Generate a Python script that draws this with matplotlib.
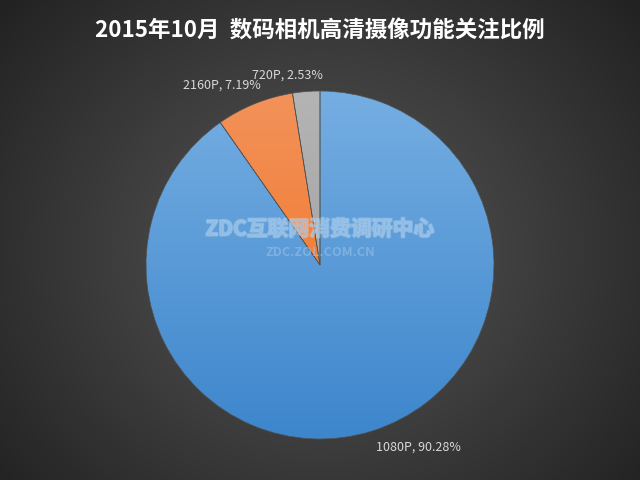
import numpy as np
import matplotlib
matplotlib.use("Agg")
import matplotlib.pyplot as plt
from matplotlib.colors import LinearSegmentedColormap
import matplotlib.patheffects as pe

plt.rcParams['font.family'] = ['Noto Sans CJK SC', 'DejaVu Sans']

title = "2015年10月  数码相机高清摄像功能关注比例"
categories = ["1080P", "2160P", "720P"]
values = [90.28, 7.19, 2.53]
top_colors = ["#75aee2", "#f3925a", "#b4b4b4"]
bot_colors = ["#3d86cc", "#ee6e1a", "#9a9a9a"]
label_angle_shift = [10.8, 6.5, 5.2]   # degrees, label placement tweak
label_dist = [1.19, 1.18, 1.11]

fig = plt.figure(figsize=(6.4, 4.8), dpi=100)

# radial gradient background
bg = fig.add_axes([0, 0, 1, 1])
yy, xx = np.mgrid[0:480, 0:640]
r = np.sqrt(((xx - 320) / 420.0) ** 2 + ((yy - 250) / 380.0) ** 2)
r = np.clip(r, 0, 1)
c0 = np.array([0x58, 0x58, 0x58]) / 255
c1 = np.array([0x22, 0x22, 0x22]) / 255
img = c0[None, None, :] * (1 - r[..., None]) + c1[None, None, :] * r[..., None]
bg.imshow(img, extent=[0, 640, 480, 0], aspect='auto')
bg.set_axis_off()

# pie axes
R = 174
cx, cy = 320, 480 - 265
ax = fig.add_axes([(cx - R) / 640, (cy - R) / 480, 2 * R / 640, 2 * R / 480])
wedges, texts = ax.pie(values, labels=[f"{c}, {v:.2f}%" for c, v in zip(categories, values)],
                       startangle=90, counterclock=False, radius=1.0,
                       labeldistance=1.18,
                       wedgeprops=dict(linewidth=0.5, edgecolor="#505050"),
                       textprops=dict(color="#d8d8d8", fontsize=9))
ax.set_xlim(-1, 1)
ax.set_ylim(-1, 1)
ax.set_aspect('auto')

for w, t, tc, bc, sh, d in zip(wedges, texts, top_colors, bot_colors, label_angle_shift, label_dist):
    cmap = LinearSegmentedColormap.from_list("g", [bc, tc])
    grad = np.linspace(0, 1, 256).reshape(-1, 1)
    im = ax.imshow(grad, extent=[-1, 1, -1, 1], origin='lower', cmap=cmap,
                   aspect='auto', zorder=w.get_zorder() + 0.1)
    im.set_clip_path(w)
    w.set_facecolor('none')
    w.set_zorder(w.get_zorder() + 0.2)
    mid = np.deg2rad((w.theta1 + w.theta2) / 2 + sh)
    t.set_position((d * np.cos(mid), d * np.sin(mid)))
    t.set_ha('center')
    t.set_va('center')

ax.set_xlim(-1, 1)
ax.set_ylim(-1, 1)
ax.set_axis_off()

fig.text(0.5, 1 - 31 / 480, title, ha='center', va='center', color='white',
         fontsize=16.2, fontweight='bold')

# watermark
fig.text(0.5, 1 - 229 / 480, "ZDC互联网消费调研中心", ha='center', va='center',
         color='#9cc4ea', alpha=0.55, fontsize=15, fontweight='bold',
         path_effects=[pe.withStroke(linewidth=1.5, foreground='#d8e8f6', alpha=0.35)])
fig.text(0.5, 1 - 253 / 480, "ZDC.ZOL.COM.CN", ha='center', va='center',
         color='#9cc4ea', alpha=0.55, fontsize=9.2, fontweight='bold')

fig.savefig("out.png", dpi=100)
